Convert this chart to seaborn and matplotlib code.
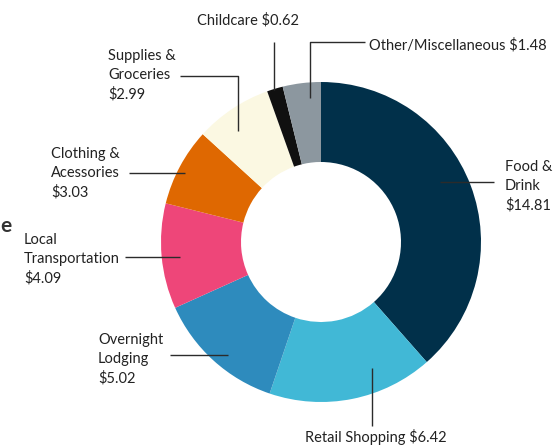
import matplotlib
matplotlib.use("Agg")
import matplotlib.pyplot as plt
import seaborn as sns

# spend per category, clockwise from the top
categories = ["Food & Drink", "Retail Shopping", "Overnight Lodging", "Local Transportation",
              "Clothing & Accessories", "Supplies & Groceries", "Childcare", "Other/Miscellaneous"]
values = [14.81, 6.42, 5.02, 4.09, 3.03, 2.99, 0.62, 1.48]
label_text = ["Food &\nDrink\n$14.81", "Retail Shopping $6.42", "Overnight\nLodging\n$5.02",
              "Local\nTransportation\n$4.09", "Clothing &\nAcessories\n$3.03",
              "Supplies &\nGroceries\n$2.99", "Childcare $0.62", "Other/Miscellaneous $1.48"]
colors = ["#01304a", "#41b8d6", "#2e8bbd", "#ee4679", "#df6801", "#fbf8e2", "#101010", "#8c979f"]

sns.set_theme(style="white")
plt.rcParams['font.family'] = ['Lato', 'DejaVu Sans']

W, H = 553, 448
fig = plt.figure(figsize=(W / 100, H / 100), dpi=100)
ax = fig.add_axes([0, 0, 1, 1])

def px(x, y):
    return x, H - y

cx, cy = px(321, 242)
ax.pie(values, colors=colors, startangle=90, counterclock=False, center=(cx, cy),
       radius=160, wedgeprops=dict(width=80, linewidth=0), frame=True)
ax.set_xlim(0, W)
ax.set_ylim(0, H)
ax.set_aspect('equal')
ax.axis('off')

# leader lines (pixel positions, y from top) and text anchors
layout = {
    "Food & Drink": dict(line=[(440, 182), (494, 182)], text=(505, 186)),
    "Retail Shopping": dict(line=[(372, 368), (372, 426)], text=(305, 437)),
    "Overnight Lodging": dict(line=[(170, 355), (228, 355)], text=(98, 359)),
    "Local Transportation": dict(line=[(125, 257), (180, 257)], text=(24, 259)),
    "Clothing & Accessories": dict(line=[(129, 173), (185, 173)], text=(51, 173)),
    "Supplies & Groceries": dict(line=[(180, 76), (238, 76), (238, 131)], text=(108, 75)),
    "Childcare": dict(line=[(274, 42), (274, 90)], text=(197, 20)),
    "Other/Miscellaneous": dict(line=[(365, 42), (310, 42), (310, 98)], text=(369, 45)),
}

for cat, lab in zip(categories, label_text):
    L = layout[cat]
    xs = [p[0] for p in L["line"]]
    ys = [H - p[1] for p in L["line"]]
    ax.plot(xs, ys, color="#2b2b2b", lw=1.0, solid_capstyle='butt')
    tx, ty = px(*L["text"])
    ax.text(tx, ty, lab, ha='left', va='center', fontsize=10.5, color="#222222",
            linespacing=1.45)

# stray title letter at the left edge
ax.text(0, H - 226, "e", ha='left', va='center', fontsize=15, fontweight='bold', color="#333333")

fig.savefig("out.png", dpi=100)
